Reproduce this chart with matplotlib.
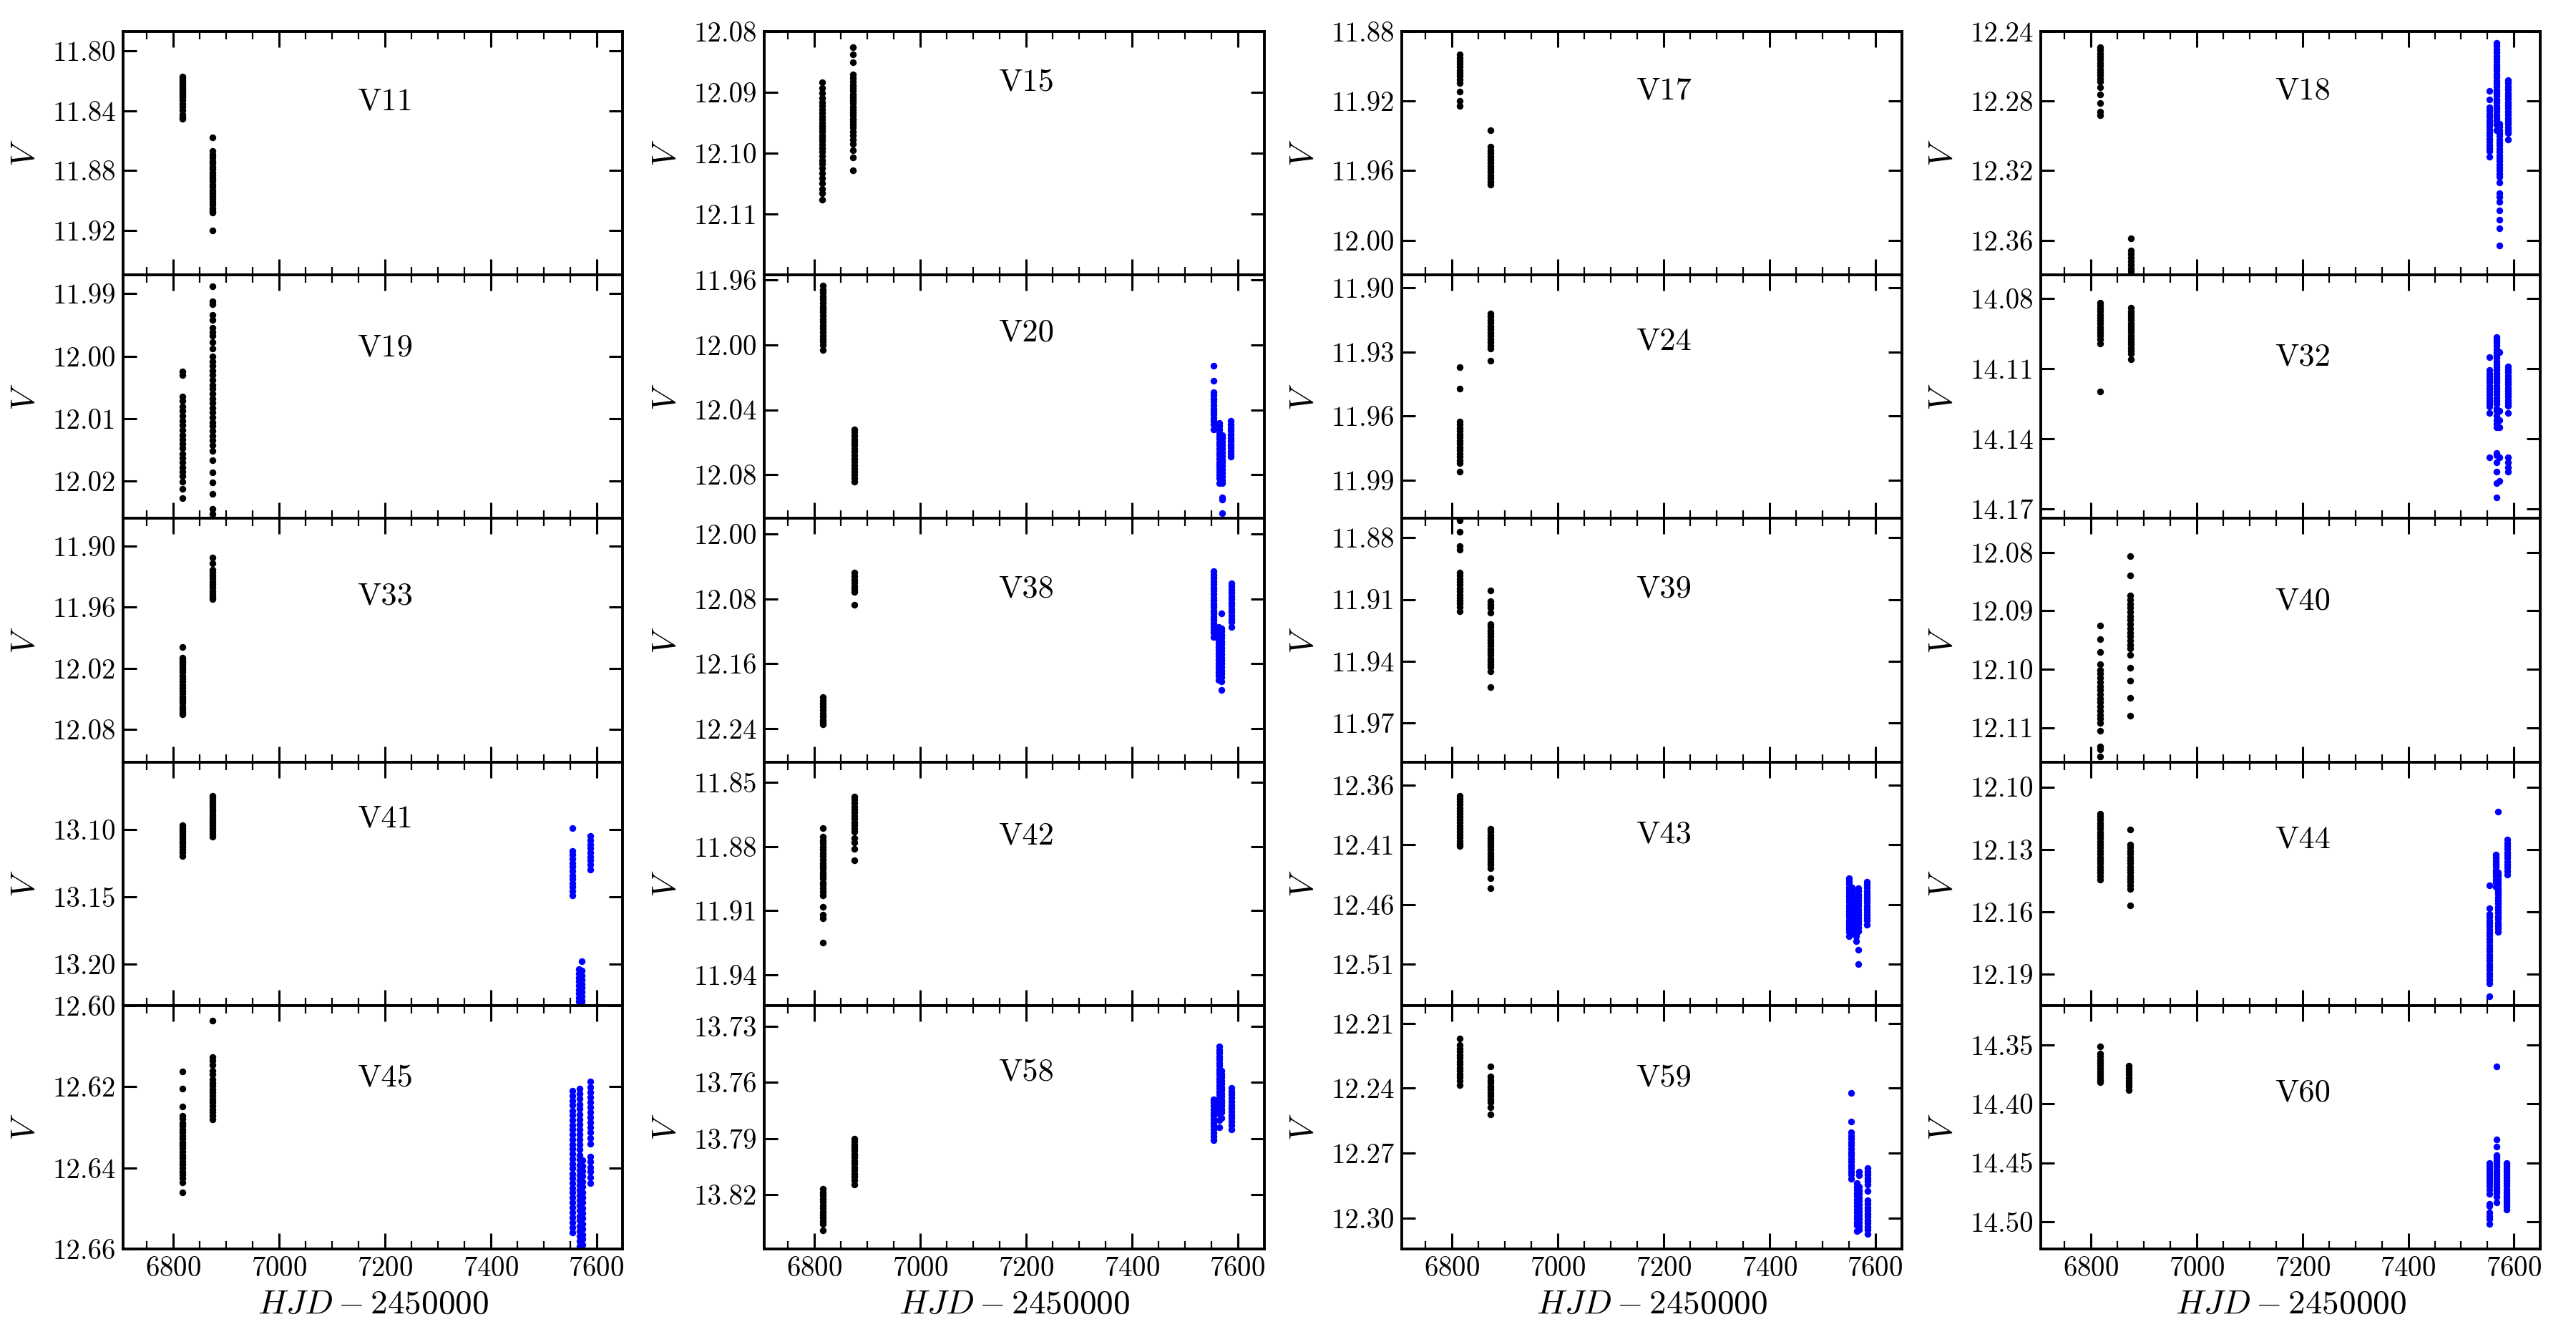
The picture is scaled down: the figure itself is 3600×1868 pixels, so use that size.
import matplotlib
matplotlib.use("Agg")
import matplotlib.pyplot as plt
from matplotlib.ticker import FormatStrFormatter, MultipleLocator

plt.rcParams.update({
    "font.family": "cmr10",
    "mathtext.fontset": "cm",
    "axes.formatter.use_mathtext": True,
    "font.size": 14,
    "axes.linewidth": 1.4,
    "xtick.direction": "in", "ytick.direction": "in",
    "xtick.top": True, "ytick.right": True,
    "xtick.major.size": 8, "xtick.minor.size": 4,
    "ytick.major.size": 7,
    "xtick.major.width": 1.1, "xtick.minor.width": 0.8, "ytick.major.width": 1.1,
})

# ---------------------------------------------------------------------------
# light-curve data: (HJD - 2450000, [V magnitudes]) per observing run
# black = earlier campaigns, blue = later campaign
# ---------------------------------------------------------------------------
V11_BLACK = [
    (6817, [11.817, 11.818, 11.8195, 11.821, 11.8222, 11.8236, 11.825, 11.8263, 11.8278, 11.829, 11.8303,
            11.831, 11.833, 11.8355, 11.8372, 11.8398, 11.8425, 11.8445, 11.8456]),
    (6874, [11.8578, 11.867, 11.8692, 11.8711, 11.8735, 11.8752, 11.8774, 11.879, 11.8813, 11.8832, 11.885,
            11.8871, 11.8893, 11.891, 11.8932, 11.8951, 11.897, 11.8992, 11.9011, 11.903, 11.9052, 11.907,
            11.908, 11.920]),
]
V11_BLUE = []

V19_BLACK = [
    (6817, [12.0025, 12.003, 12.0065, 12.0072, 12.0081, 12.0088, 12.0096, 12.0103, 12.011, 12.0118, 12.0126,
            12.0133, 12.014, 12.0147, 12.0156, 12.0163, 12.017, 12.0178, 12.0185, 12.0192, 12.0201, 12.0213,
            12.0227]),
    (6874, [11.9888, 11.9912, 11.9917, 11.9934, 11.9942, 11.9955, 11.9961, 11.9967, 11.9978, 11.9988, 12.0,
            12.0008, 12.0015, 12.0023, 12.003, 12.0038, 12.0046, 12.0052, 12.006, 12.0068, 12.0075, 12.0083,
            12.009, 12.0098, 12.0106, 12.0112, 12.012, 12.0128, 12.0135, 12.0143, 12.0152, 12.0167, 12.0186,
            12.0202, 12.022, 12.0245, 12.0252, 12.026]),
]
V19_BLUE = []

V33_BLACK = [
    (6817, [11.999, 12.0097, 12.012, 12.0142, 12.0163, 12.0185, 12.0212, 12.024, 12.027, 12.0298, 12.0331,
            12.036, 12.039, 12.0418, 12.045, 12.048, 12.0508, 12.054, 12.0571, 12.06, 12.063, 12.0652]),
    (6874, [11.911, 11.917, 11.923, 11.9258, 11.929, 11.932, 11.9352, 11.938, 11.941, 11.9442, 11.947,
            11.9498, 11.952]),
]
V33_BLUE = []

V41_BLACK = [
    (6817, [13.097, 13.099, 13.1012, 13.103, 13.105, 13.1072, 13.109, 13.111, 13.1132, 13.115, 13.117, 13.120]),
    (6874, [13.0752, 13.077, 13.0791, 13.081, 13.083, 13.0852, 13.087, 13.089, 13.0911, 13.093, 13.095,
            13.0972, 13.099, 13.101, 13.1032, 13.1056]),
]
V41_BLUE = [
    (7554, [13.099, 13.116, 13.119, 13.1222, 13.125, 13.128, 13.1312, 13.134, 13.137, 13.1402, 13.143,
            13.146, 13.149]),
    (7567, [13.204, 13.207, 13.2102, 13.213, 13.216, 13.2192, 13.222, 13.225, 13.228, 13.231, 13.234]),
    (7572, [13.198, 13.205, 13.2085, 13.212, 13.215, 13.2178, 13.221, 13.224, 13.2272, 13.230, 13.233]),
    (7588, [13.105, 13.108, 13.1112, 13.114, 13.117, 13.1202, 13.123, 13.126, 13.130]),
]

V45_BLACK = [
    (6817, [12.6162, 12.6205, 12.6248, 12.6271, 12.6279, 12.6289, 12.6296, 12.6305, 12.6312, 12.6321,
            12.6328, 12.6337, 12.6344, 12.6352, 12.636, 12.6369, 12.6376, 12.6385, 12.6392, 12.64, 12.6409,
            12.6416, 12.6425, 12.6435, 12.646]),
    (6874, [12.6038, 12.6127, 12.6136, 12.6147, 12.616, 12.617, 12.6181, 12.619, 12.6198, 12.6207, 12.6214,
            12.6222, 12.6231, 12.6239, 12.6247, 12.6256, 12.6263, 12.6271, 12.628]),
]
V45_BLUE = [
    (7555, [12.621, 12.6222, 12.6235, 12.6246, 12.6259, 12.627, 12.6282, 12.6295, 12.6306, 12.6318, 12.633,
            12.6342, 12.6353, 12.6366, 12.6378, 12.639, 12.6401, 12.6414, 12.6425, 12.6437, 12.645, 12.6461,
            12.6473, 12.6485, 12.6497, 12.651, 12.6522, 12.6534, 12.6547, 12.656]),
    (7568, [12.6205, 12.6218, 12.623, 12.6243, 12.6255, 12.6268, 12.628, 12.6293, 12.6305, 12.6318, 12.633,
            12.6343, 12.6355, 12.6368, 12.638, 12.6393, 12.6405, 12.6418, 12.643, 12.6443, 12.6455, 12.6468,
            12.648, 12.6493, 12.6505, 12.6518, 12.653, 12.6543, 12.6555, 12.6568, 12.658, 12.6593, 12.6605]),
    (7573, [12.6382, 12.6395, 12.6408, 12.642, 12.6434, 12.6447, 12.646, 12.6472, 12.6486, 12.6499, 12.6512,
            12.6524, 12.6538, 12.6551, 12.6564, 12.6576, 12.659, 12.6603]),
    (7588, [12.6188, 12.6201, 12.6213, 12.6226, 12.6238, 12.625, 12.6263, 12.6276, 12.6288, 12.63, 12.6313,
            12.6326, 12.634, 12.6372, 12.6385, 12.6398, 12.641, 12.6423, 12.6437]),
]

V15_BLACK = [
    (6815, [12.0883, 12.0893, 12.0901, 12.0909, 12.0916, 12.0922, 12.0928, 12.0934, 12.094, 12.0945, 12.095,
            12.0955, 12.096, 12.0965, 12.097, 12.0975, 12.098, 12.0986, 12.0992, 12.0998, 12.1004, 12.1011,
            12.1018, 12.1025, 12.1033, 12.1041, 12.1049, 12.1058, 12.1066, 12.1076]),
    (6872, [12.0826, 12.0838, 12.085, 12.087, 12.0876, 12.0882, 12.0888, 12.0893, 12.0898, 12.0903, 12.0908,
            12.0913, 12.0918, 12.0923, 12.0928, 12.0933, 12.0938, 12.0943, 12.0948, 12.0953, 12.0958, 12.0964,
            12.097, 12.0978, 12.0984, 12.0995, 12.1007, 12.1028]),
]
V15_BLUE = []

V20_BLACK = [
    (6816, [11.9637, 11.966, 11.968, 11.9702, 11.972, 11.974, 11.9762, 11.978, 11.98, 11.9822, 11.984,
            11.986, 11.9882, 11.99, 11.992, 11.9942, 11.996, 11.998, 12.0002, 12.0033]),
    (6875, [12.0519, 12.054, 12.056, 12.0582, 12.06, 12.062, 12.0642, 12.066, 12.068, 12.0702, 12.072,
            12.074, 12.0762, 12.078, 12.08, 12.0822, 12.0845]),
]
V20_BLUE = [
    (7554, [12.0128, 12.0221, 12.029, 12.031, 12.0332, 12.035, 12.037, 12.0392, 12.041, 12.043, 12.0452,
            12.047, 12.049, 12.052]),
    (7565, [12.048, 12.05, 12.052, 12.0542, 12.056, 12.058, 12.0602, 12.062, 12.064, 12.0662, 12.068, 12.07,
            12.0722, 12.074, 12.076, 12.0782, 12.08, 12.082, 12.085]),
    (7571, [12.0556, 12.0576, 12.0598, 12.062, 12.064, 12.0662, 12.0684, 12.0705, 12.0726, 12.0748, 12.077,
            12.079, 12.0812, 12.0834, 12.085, 12.0938, 12.0955, 12.1035]),
    (7587, [12.047, 12.049, 12.0512, 12.0532, 12.0552, 12.0572, 12.0592, 12.0612, 12.0632, 12.0652, 12.0672,
            12.069]),
]

V38_BLACK = [
    (6816, [12.2014, 12.205, 12.209, 12.2128, 12.217, 12.221, 12.2248, 12.229, 12.232, 12.2348]),
    (6875, [12.048, 12.052, 12.056, 12.0598, 12.064, 12.068, 12.071, 12.0873]),
]
V38_BLUE = [
    (7554, [12.046, 12.05, 12.0542, 12.058, 12.062, 12.0662, 12.07, 12.074, 12.0782, 12.082, 12.086, 12.0902,
            12.094, 12.098, 12.1022, 12.106, 12.11, 12.1142, 12.118, 12.122, 12.127]),
    (7564, [12.115, 12.119, 12.1232, 12.127, 12.131, 12.1352, 12.139, 12.143, 12.1472, 12.151, 12.155,
            12.1592, 12.163, 12.167, 12.1712, 12.175, 12.18]),
    (7569, [12.0975, 12.1162, 12.12, 12.124, 12.1282, 12.132, 12.136, 12.1402, 12.144, 12.148, 12.1522,
            12.156, 12.16, 12.1642, 12.168, 12.172, 12.1762, 12.182, 12.192]),
    (7588, [12.0605, 12.0645, 12.0685, 12.0725, 12.0765, 12.0805, 12.0845, 12.0885, 12.0925, 12.0965,
            12.1005, 12.1045, 12.1085, 12.115]),
]

V42_BLACK = [
    (6816, [11.8715, 11.8753, 11.877, 11.8786, 11.88, 11.8815, 11.8832, 11.8846, 11.886, 11.8877, 11.889,
            11.8906, 11.8922, 11.8936, 11.895, 11.8967, 11.898, 11.8996, 11.9012, 11.903, 11.9081, 11.912,
            11.9135, 11.925]),
    (6875, [11.8566, 11.8581, 11.8597, 11.8612, 11.8627, 11.8642, 11.8657, 11.8672, 11.8688, 11.8702,
            11.8716, 11.873, 11.876, 11.878, 11.881, 11.8864]),
]
V42_BLUE = []

V58_BLACK = [
    (6816, [13.817, 13.8187, 13.8204, 13.8222, 13.8238, 13.8255, 13.8272, 13.829, 13.8306, 13.8323, 13.834,
            13.8357, 13.839]),
    (6875, [13.79, 13.7917, 13.7934, 13.7951, 13.7968, 13.7985, 13.8002, 13.8019, 13.8036, 13.8053, 13.807,
            13.8087, 13.8104, 13.8121, 13.8146]),
]
V58_BLUE = [
    (7554, [13.769, 13.7708, 13.7726, 13.7744, 13.7762, 13.778, 13.7798, 13.7816, 13.7834, 13.7852, 13.787,
            13.7888, 13.791]),
    (7565, [13.741, 13.7427, 13.7444, 13.7461, 13.7478, 13.7495, 13.7512, 13.7529, 13.7546, 13.7563, 13.758,
            13.7597, 13.7614, 13.7631, 13.7648, 13.7665, 13.7682, 13.7699, 13.7716, 13.7733, 13.775, 13.7767,
            13.78, 13.784]),
    (7570, [13.754, 13.7557, 13.7574, 13.7591, 13.7608, 13.7625, 13.7642, 13.7659, 13.7676, 13.7693, 13.771,
            13.7727, 13.7744, 13.7761, 13.779]),
    (7588, [13.763, 13.7648, 13.7666, 13.7684, 13.7702, 13.772, 13.7738, 13.7756, 13.7774, 13.7792, 13.781,
            13.7828, 13.785]),
]

V17_BLACK = [
    (6815, [11.8933, 11.895, 11.8968, 11.8985, 11.9002, 11.902, 11.9038, 11.9056, 11.9074, 11.9095, 11.9145,
            11.92, 11.9227]),
    (6873, [11.9369, 11.9464, 11.9482, 11.95, 11.9518, 11.9536, 11.9554, 11.9572, 11.959, 11.9608, 11.9626,
            11.9644, 11.9662, 11.968]),
]
V17_BLUE = []

V24_BLACK = [
    (6815, [11.9372, 11.9473, 11.9626, 11.964, 11.9655, 11.967, 11.9686, 11.97, 11.9716, 11.973, 11.9745,
            11.976, 11.9776, 11.979, 11.9806, 11.9821, 11.9859]),
    (6873, [11.912, 11.9135, 11.915, 11.9165, 11.918, 11.9195, 11.921, 11.9225, 11.924, 11.9255, 11.927,
            11.9284, 11.934]),
]
V24_BLUE = []

V39_BLACK = [
    (6815, [11.8715, 11.877, 11.884, 11.886, 11.897, 11.8985, 11.9, 11.9016, 11.903, 11.9046, 11.906, 11.9076,
            11.909, 11.9106, 11.912, 11.9137, 11.9156]),
    (6873, [11.9057, 11.911, 11.9125, 11.914, 11.9165, 11.922, 11.9235, 11.925, 11.9266, 11.928, 11.9296,
            11.931, 11.9326, 11.934, 11.9356, 11.937, 11.9386, 11.94, 11.9416, 11.943, 11.945, 11.9526]),
]
V39_BLUE = []

V43_BLACK = [
    (6815, [12.369, 12.3715, 12.374, 12.3765, 12.379, 12.3815, 12.384, 12.3865, 12.389, 12.3915, 12.394,
            12.3965, 12.399, 12.4015, 12.404, 12.4065, 12.409, 12.4108]),
    (6873, [12.3967, 12.3992, 12.4017, 12.4042, 12.4067, 12.4092, 12.4117, 12.4142, 12.4167, 12.4192,
            12.4217, 12.4242, 12.4267, 12.4298, 12.438, 12.4464]),
]
V43_BLUE = [
    (7551, [12.438, 12.4405, 12.443, 12.4455, 12.448, 12.4505, 12.453, 12.4555, 12.458, 12.4605, 12.463,
            12.4655, 12.468, 12.4705, 12.473, 12.4755, 12.478, 12.4805, 12.483, 12.4865]),
    (7556, [12.4455, 12.448, 12.4505, 12.453, 12.4555, 12.458, 12.4605, 12.463, 12.4655, 12.468, 12.4705,
            12.473, 12.4755, 12.478, 12.4805, 12.484]),
    (7564, [12.4589, 12.4614, 12.4639, 12.4664, 12.4689, 12.4714, 12.4739, 12.4764, 12.4789, 12.4814,
            12.4839, 12.4864, 12.4906]),
    (7568, [12.4465, 12.449, 12.4515, 12.454, 12.4565, 12.459, 12.4615, 12.464, 12.4665, 12.469, 12.4715,
            12.474, 12.4765, 12.479, 12.482, 12.498, 12.51]),
    (7585, [12.441, 12.4435, 12.446, 12.4485, 12.451, 12.4535, 12.456, 12.4585, 12.461, 12.4635, 12.466,
            12.4685, 12.471, 12.4735, 12.477]),
]

V59_BLACK = [
    (6815, [12.2169, 12.22, 12.2215, 12.223, 12.2245, 12.226, 12.2275, 12.229, 12.2305, 12.232, 12.2335,
            12.235, 12.2365, 12.2385]),
    (6873, [12.23, 12.2346, 12.2361, 12.2376, 12.2391, 12.2406, 12.2421, 12.2436, 12.2451, 12.2466, 12.2489,
            12.2522]),
]
V59_BLUE = [
    (7554, [12.242, 12.2555, 12.2605, 12.262, 12.2635, 12.265, 12.2665, 12.268, 12.2695, 12.271, 12.2725,
            12.274, 12.2755, 12.277, 12.2785, 12.28, 12.282]),
    (7566, [12.284, 12.2855, 12.287, 12.2885, 12.29, 12.2915, 12.293, 12.2945, 12.296, 12.2975, 12.299,
            12.3005, 12.302, 12.3035, 12.306]),
    (7570, [12.2785, 12.2802, 12.2855, 12.2872, 12.2888, 12.2905, 12.2922, 12.2938, 12.2955, 12.2972,
            12.2988, 12.3005, 12.3022, 12.3038, 12.3055]),
    (7586, [12.277, 12.2785, 12.28, 12.2815, 12.283, 12.2845, 12.2875, 12.292, 12.2935, 12.295, 12.2965,
            12.298, 12.2995, 12.301, 12.3025, 12.304, 12.3055, 12.3075]),
]

V18_BLACK = [
    (6817, [12.249, 12.2508, 12.2526, 12.2544, 12.2562, 12.258, 12.2598, 12.2616, 12.2634, 12.2652, 12.267,
            12.2688, 12.272, 12.276, 12.281, 12.286, 12.288]),
    (6875, [12.359, 12.366, 12.368, 12.37, 12.372, 12.374, 12.376, 12.378, 12.38]),
]
V18_BLUE = [
    (7554, [12.274, 12.279, 12.2836, 12.2854, 12.2872, 12.289, 12.2908, 12.2926, 12.2944, 12.2962, 12.298,
            12.2998, 12.3016, 12.3034, 12.3052, 12.307, 12.3088, 12.312]),
    (7567, [12.2466, 12.2484, 12.2502, 12.252, 12.2538, 12.2556, 12.2574, 12.2592, 12.261, 12.2628, 12.2646,
            12.2664, 12.2682, 12.27, 12.2718, 12.2736, 12.2754, 12.2772, 12.279, 12.2808, 12.2826, 12.2844,
            12.2862, 12.288, 12.2898, 12.2916, 12.2934, 12.2968]),
    (7572, [12.293, 12.2948, 12.2966, 12.2984, 12.3002, 12.302, 12.3038, 12.3056, 12.3074, 12.3092, 12.311,
            12.3128, 12.3146, 12.3164, 12.3182, 12.32, 12.3218, 12.3236, 12.327, 12.333, 12.335, 12.338,
            12.343, 12.348, 12.353, 12.363]),
    (7589, [12.268, 12.2698, 12.2716, 12.2734, 12.2752, 12.277, 12.2788, 12.2806, 12.2824, 12.2842, 12.286,
            12.2878, 12.2896, 12.2914, 12.2932, 12.295, 12.2968, 12.2986, 12.302]),
]

V32_BLACK = [
    (6817, [14.0817, 14.083, 14.0843, 14.0856, 14.0869, 14.0882, 14.0895, 14.0908, 14.0921, 14.0934,
            14.0947, 14.096, 14.0973, 14.0993, 14.1198]),
    (6875, [14.0841, 14.0854, 14.0867, 14.088, 14.0893, 14.0906, 14.0919, 14.0932, 14.0945, 14.0958,
            14.0971, 14.0984, 14.0997, 14.101, 14.1023, 14.1036, 14.106]),
]
V32_BLUE = [
    (7554, [14.105, 14.1107, 14.112, 14.1133, 14.1146, 14.1159, 14.1172, 14.1185, 14.1198, 14.1211,
            14.1224, 14.1237, 14.125, 14.1263, 14.129, 14.148]),
    (7567, [14.0964, 14.0977, 14.099, 14.1003, 14.1016, 14.1029, 14.1042, 14.1055, 14.1068, 14.1081,
            14.1094, 14.1107, 14.112, 14.1133, 14.1146, 14.1159, 14.1172, 14.1185, 14.1198, 14.1211, 14.1224,
            14.1237, 14.125, 14.127, 14.128, 14.13, 14.132, 14.1335, 14.135, 14.146, 14.147, 14.15, 14.154,
            14.159, 14.165]),
    (7573, [14.103, 14.128, 14.132, 14.135, 14.148, 14.158]),
    (7589, [14.109, 14.1103, 14.1116, 14.1129, 14.1142, 14.1155, 14.1168, 14.1181, 14.1194, 14.1207,
            14.122, 14.1233, 14.1246, 14.1259, 14.129, 14.148, 14.15, 14.152, 14.154]),
]

V40_BLACK = [
    (6817, [12.0925, 12.0948, 12.0971, 12.0991, 12.1001, 12.1008, 12.1015, 12.1022, 12.1029, 12.1036,
            12.1043, 12.105, 12.1057, 12.1064, 12.1071, 12.1078, 12.1085, 12.1092, 12.1105, 12.1133,
            12.1137, 12.1149]),
    (6874, [12.0806, 12.0839, 12.0874, 12.0881, 12.0888, 12.0895, 12.0902, 12.0909, 12.0916, 12.0923,
            12.093, 12.0937, 12.0944, 12.0951, 12.0958, 12.0965, 12.0976, 12.0998, 12.102, 12.1049, 12.108]),
]
V40_BLUE = []

V44_BLACK = [
    (6817, [12.1127, 12.1142, 12.1157, 12.1172, 12.1187, 12.1202, 12.1217, 12.1232, 12.1247, 12.1262,
            12.1277, 12.1292, 12.1307, 12.1322, 12.1337, 12.1352, 12.1367, 12.1382, 12.1397, 12.1412,
            12.1427, 12.1444]),
    (6874, [12.1203, 12.1277, 12.1292, 12.1307, 12.1322, 12.1337, 12.1352, 12.1367, 12.1382, 12.1397,
            12.1412, 12.1427, 12.1442, 12.1457, 12.1472, 12.1491, 12.1568]),
]
V44_BLUE = [
    (7554, [12.1472, 12.1583, 12.161, 12.1625, 12.164, 12.1655, 12.167, 12.1685, 12.17, 12.1715, 12.173,
            12.1745, 12.176, 12.1775, 12.179, 12.1805, 12.182, 12.1835, 12.185, 12.1865, 12.188, 12.1895,
            12.191, 12.1925, 12.1943, 12.2006]),
    (7566, [12.1324, 12.1339, 12.1354, 12.1369, 12.1384, 12.1399, 12.1414, 12.1429, 12.1444, 12.1459,
            12.148]),
    (7570, [12.1117, 12.141, 12.1425, 12.144, 12.1455, 12.147, 12.1485, 12.15, 12.1515, 12.153, 12.1545,
            12.156, 12.1575, 12.159, 12.1605, 12.162, 12.1635, 12.165, 12.1665, 12.168, 12.1695]),
    (7588, [12.1253, 12.1268, 12.1283, 12.1298, 12.1313, 12.1328, 12.1343, 12.1358, 12.1373, 12.1388,
            12.1403, 12.142]),
]

V60_BLACK = [
    (6817, [14.3514, 14.3575, 14.36, 14.3625, 14.365, 14.3675, 14.37, 14.3725, 14.375, 14.3775, 14.38,
            14.3819]),
    (6872, [14.3677, 14.3702, 14.3727, 14.3752, 14.3777, 14.3802, 14.3827, 14.3852, 14.3886]),
]
V60_BLUE = [
    (7553, [14.45, 14.4525, 14.455, 14.4575, 14.46, 14.4625, 14.465, 14.4675, 14.47, 14.4725, 14.4762,
            14.485, 14.487, 14.492, 14.495, 14.498, 14.502]),
    (7567, [14.3685, 14.4304, 14.4365, 14.4436, 14.4461, 14.4486, 14.4511, 14.4536, 14.4561, 14.4586,
            14.4611, 14.4636, 14.4661, 14.4686, 14.4711, 14.4736, 14.4761, 14.4786, 14.484]),
    (7586, [14.45, 14.4525, 14.455, 14.4575, 14.46, 14.4625, 14.465, 14.4675, 14.47, 14.4725, 14.475,
            14.4775, 14.48, 14.4825, 14.485, 14.4875, 14.49]),
]

# panel layout: columns of stars, top to bottom
COLUMNS = [
    ["V11", "V19", "V33", "V41", "V45"],
    ["V15", "V20", "V38", "V42", "V58"],
    ["V17", "V24", "V39", "V43", "V59"],
    ["V18", "V32", "V40", "V44", "V60"],
]
DATA = {
    "V11": (V11_BLACK, V11_BLUE), "V19": (V19_BLACK, V19_BLUE), "V33": (V33_BLACK, V33_BLUE),
    "V41": (V41_BLACK, V41_BLUE), "V45": (V45_BLACK, V45_BLUE),
    "V15": (V15_BLACK, V15_BLUE), "V20": (V20_BLACK, V20_BLUE), "V38": (V38_BLACK, V38_BLUE),
    "V42": (V42_BLACK, V42_BLUE), "V58": (V58_BLACK, V58_BLUE),
    "V17": (V17_BLACK, V17_BLUE), "V24": (V24_BLACK, V24_BLUE), "V39": (V39_BLACK, V39_BLUE),
    "V43": (V43_BLACK, V43_BLUE), "V59": (V59_BLACK, V59_BLUE),
    "V18": (V18_BLACK, V18_BLUE), "V32": (V32_BLACK, V32_BLUE), "V40": (V40_BLACK, V40_BLUE),
    "V44": (V44_BLACK, V44_BLUE), "V60": (V60_BLACK, V60_BLUE),
}
# (faint end, bright end) of the inverted V axis
YLIMS = {
    "V11": (11.950, 11.787), "V19": (12.026, 11.987), "V33": (12.112, 11.873),
    "V41": (13.231, 13.050), "V45": (12.660, 12.600),
    "V15": (12.120, 12.080), "V20": (12.107, 11.957), "V38": (12.281, 11.981),
    "V42": (11.9544, 11.8405), "V58": (13.849, 13.719),
    "V17": (12.020, 11.880), "V24": (12.008, 11.894), "V39": (11.989, 11.8707),
    "V43": (12.5445, 12.3407), "V59": (12.3144, 12.2017),
    "V18": (12.380, 12.240), "V32": (14.174, 14.070), "V40": (12.1159, 12.0742),
    "V44": (12.205, 12.088), "V60": (14.5233, 14.3165),
}
YTICKS = {
    "V11": [11.80, 11.84, 11.88, 11.92], "V19": [11.99, 12.00, 12.01, 12.02],
    "V33": [11.90, 11.96, 12.02, 12.08], "V41": [13.10, 13.15, 13.20],
    "V45": [12.60, 12.62, 12.64, 12.66],
    "V15": [12.08, 12.09, 12.10, 12.11], "V20": [11.96, 12.00, 12.04, 12.08],
    "V38": [12.00, 12.08, 12.16, 12.24], "V42": [11.85, 11.88, 11.91, 11.94],
    "V58": [13.73, 13.76, 13.79, 13.82],
    "V17": [11.88, 11.92, 11.96, 12.00], "V24": [11.90, 11.93, 11.96, 11.99],
    "V39": [11.88, 11.91, 11.94, 11.97], "V43": [12.36, 12.41, 12.46, 12.51],
    "V59": [12.21, 12.24, 12.27, 12.30],
    "V18": [12.24, 12.28, 12.32, 12.36], "V32": [14.08, 14.11, 14.14, 14.17],
    "V40": [12.08, 12.09, 12.10, 12.11], "V44": [12.10, 12.13, 12.16, 12.19],
    "V60": [14.35, 14.40, 14.45, 14.50],
}
XTICKS = [6800, 7000, 7200, 7400, 7600]
XLIM = (6705, 7650)

# name label height (fraction of panel from the top)
LABEL_Y = {
    "V11": 0.29, "V19": 0.30, "V33": 0.32, "V41": 0.235, "V45": 0.30,
    "V15": 0.21, "V20": 0.24, "V38": 0.29, "V42": 0.305, "V58": 0.275,
    "V17": 0.245, "V24": 0.275, "V39": 0.29, "V43": 0.30, "V59": 0.30,
    "V18": 0.245, "V32": 0.34, "V40": 0.34, "V44": 0.32, "V60": 0.36,
}

fig = plt.figure(figsize=(18, 9.34), dpi=200)
lefts = [0.0478, 0.2967, 0.5442, 0.7922]
width = 0.194
top, bottom = 0.9764, 0.0658
height = (top - bottom) / 5

for ci, col in enumerate(COLUMNS):
    for ri, name in enumerate(col):
        ax = fig.add_axes([lefts[ci], top - (ri + 1) * height, width, height])
        black, blue = DATA[name]
        for t, mags in black:
            ax.plot([t] * len(mags), mags, "o", color="black", ms=3.4, mew=0)
        for t, mags in blue:
            ax.plot([t] * len(mags), mags, "o", color="#0000ff", ms=3.4, mew=0)
        ax.set_xlim(*XLIM)
        ax.set_ylim(*YLIMS[name])
        ax.set_xticks(XTICKS)
        ax.xaxis.set_minor_locator(MultipleLocator(50))
        ax.set_yticks(YTICKS[name])
        ax.yaxis.set_major_formatter(FormatStrFormatter("%.2f"))
        ax.set_ylabel("$V$", fontsize=17, labelpad=6)
        ax.text(7200, 1 - LABEL_Y[name], name, transform=ax.get_xaxis_transform(),
                ha="center", va="center", fontsize=16)
        if ri == 4:
            ax.set_xlabel(r"$HJD - 2450000$", fontsize=17)
        else:
            ax.tick_params(labelbottom=False)

fig.savefig("out.png", dpi=200)
